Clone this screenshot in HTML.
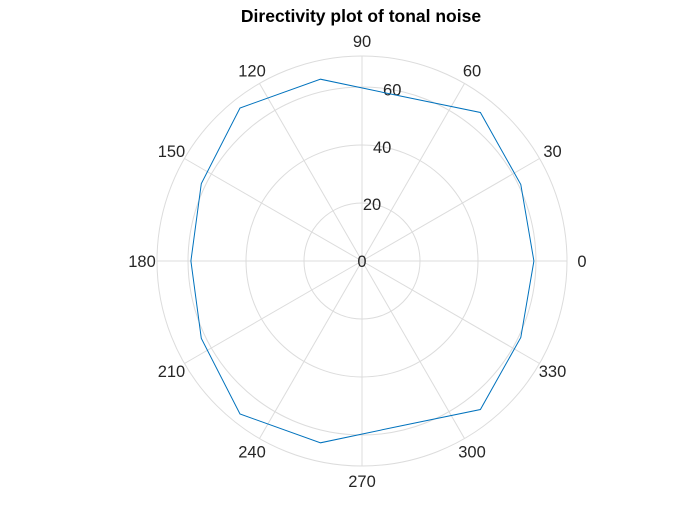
<!DOCTYPE html>
<html><head><meta charset="utf-8"><style>
body{margin:0;background:#fff;}
svg text{font-family:"Liberation Sans",Arial,sans-serif;}
</style></head><body>
<svg width="700" height="525" viewBox="0 0 700 525">
<rect width="700" height="525" fill="#fff"/>
<text x="361" y="22" text-anchor="middle" font-size="17.5" font-weight="bold" fill="#000">Directivity plot of tonal noise</text>
<g id="grid"></g>
<g id="labels"></g>
<g id="series"></g>
</svg>
<script>
const angleTicks=[0,30,60,90,120,150,180,210,240,270,300,330];
const rTicks=[0,20,40,60];
const rMax=70.7;
const thetaDeg=[0,25.714,51.429,77.143,102.857,128.571,154.286,180,205.714,231.429,257.143,282.857,308.571,334.286,360];
const rValues=[59.3,60.8,65.5,58.4,64.3,67.5,61.5,59,61.5,67.5,64.3,58.4,65.5,60.8,59.3];

const NS='http://www.w3.org/2000/svg';
const cx=362,cy=261,R=205;
const rs=v=>v/rMax*R;
const px=(a,r)=>cx+rs(r)*Math.cos(a*Math.PI/180);
const py=(a,r)=>cy-rs(r)*Math.sin(a*Math.PI/180);
function mk(t,at,p){const e=document.createElementNS(NS,t);for(const k in at)e.setAttribute(k,at[k]);p.appendChild(e);return e;}
const grid=document.getElementById('grid'),labels=document.getElementById('labels'),series=document.getElementById('series');
rTicks.slice(1).forEach(v=>{
 const c=mk('circle',{cx:cx,cy:cy,r:rs(v),fill:'none',stroke:'#dcdcdc','stroke-width':1},grid);
 
 
});
const oc=mk('circle',{cx:cx,cy:cy,r:R,fill:'none',stroke:'#dcdcdc','stroke-width':1},grid);


angleTicks.forEach(a=>{
 const l=mk('line',{x1:cx,y1:cy,x2:px(a,rMax),y2:py(a,rMax),stroke:'#dcdcdc','stroke-width':1},grid);
 
 
 const lr=rMax*220/205;
 const t=mk('text',{x:px(a,lr),y:py(a,lr)+6,'text-anchor':'middle','font-size':16.5,fill:'#262626'},labels);
 t.textContent=a;
 
 
});
rTicks.forEach(v=>{
 const t=mk('text',{x:px(80,v),y:py(80,v)+6,'text-anchor':'middle','font-size':16.5,fill:'#262626'},labels);
 t.textContent=v;
 
 
});
const pts=thetaDeg.map((a,i)=>px(a,rValues[i]).toFixed(1)+','+py(a,rValues[i]).toFixed(1)).join(' ');
const pl=mk('polyline',{points:pts,fill:'none',stroke:'#0072bd','stroke-width':1},series);


</script>
</body></html>
